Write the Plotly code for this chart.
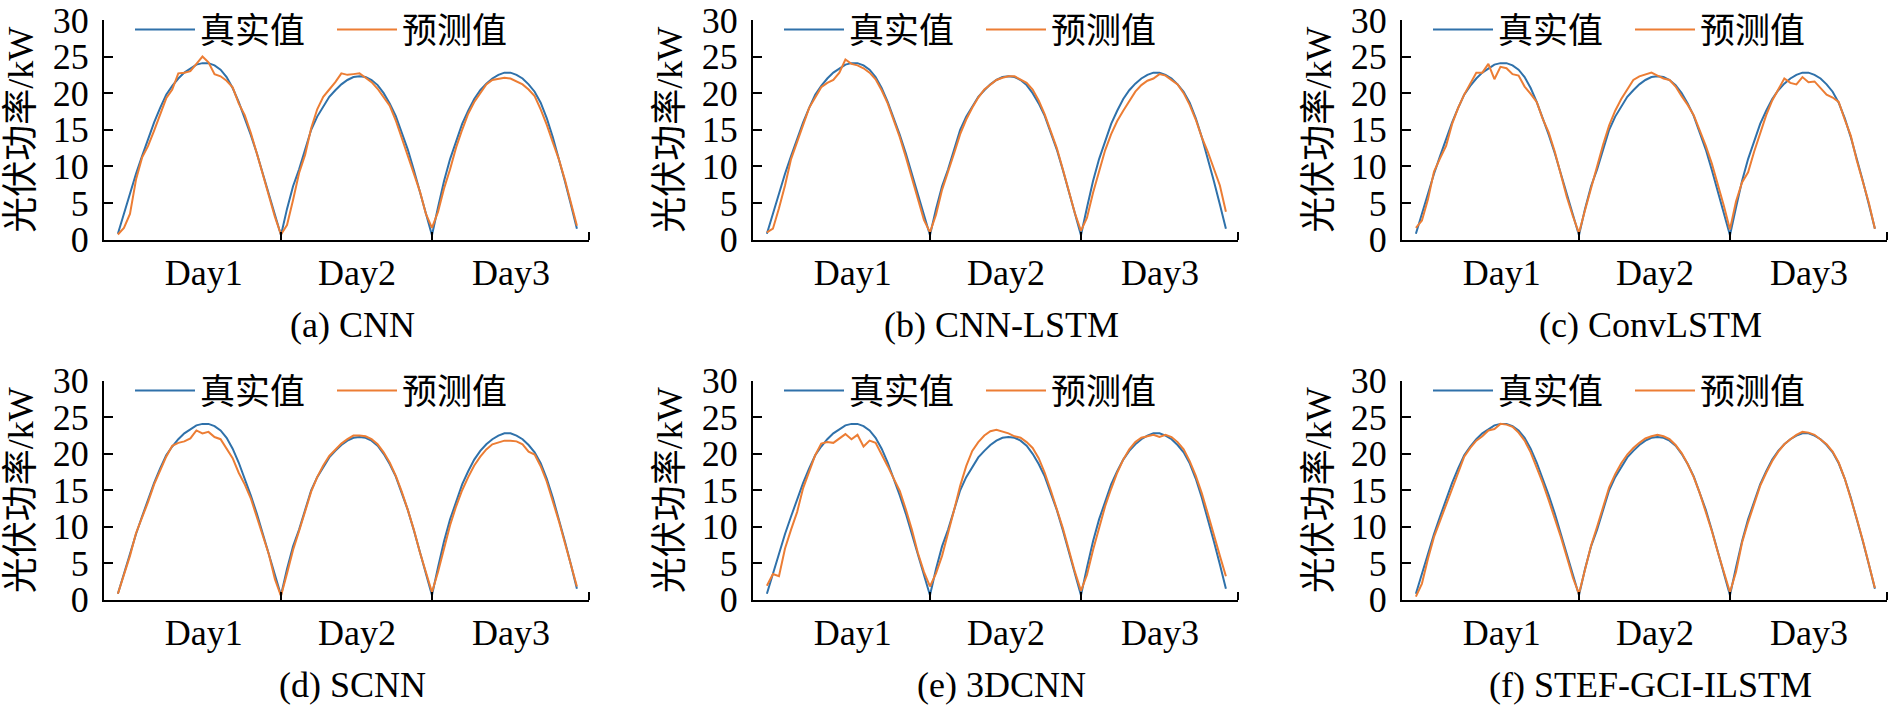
import plotly.graph_objects as go

# ---------------- data ----------------
day_labels = ["Day1", "Day2", "Day3"]
captions = ["(a) CNN", "(b) CNN-LSTM", "(c) ConvLSTM",
            "(d) SCNN", "(e) 3DCNN", "(f) STEF-GCI-ILSTM"]
legend_names = ["真实值", "预测值"]

true_kw = [
    0.8, 3.6, 6.4, 9.0, 11.4, 13.8, 16.0, 18.0, 19.8, 21.0, 22.0, 22.8, 23.4, 23.9,
    24.1, 24.1, 23.8, 23.2, 22.2, 20.7, 18.8, 16.6, 14.3, 11.8, 9.0, 6.1, 3.2, 0.6,
    4.2, 7.3, 9.6, 12.2, 15.0, 16.8, 18.2, 19.5, 20.4, 21.2, 21.8, 22.2, 22.3, 22.2,
    21.8, 21.1, 20.0, 18.6, 16.9, 14.7, 12.3, 9.5, 6.5, 3.5, 0.6,
    4.4, 8.0, 11.0, 13.5, 15.8, 17.6, 19.2, 20.4, 21.3, 22.0, 22.5, 22.8, 22.8, 22.5,
    22.0, 21.2, 20.2, 18.7, 16.6, 14.0, 11.1, 8.0, 4.8, 1.5,
]

pred_cnn = [
    0.7, 1.6, 3.5, 8.2, 11.2, 12.8, 14.9, 17.2, 19.3, 20.5, 22.7, 22.8, 23.0, 24.0,
    25.0, 24.2, 22.6, 22.3, 21.7, 20.8, 18.6, 17.0, 14.6, 11.8, 8.9, 5.8, 3.1, 0.7,
    2.0, 5.4, 9.1, 11.6, 15.2, 17.8, 19.5, 20.5, 21.5, 22.7, 22.5, 22.6, 22.7, 22.1,
    21.5, 20.6, 19.5, 18.3, 16.3, 13.8, 11.6, 9.1, 6.6, 3.5, 1.6,
    3.8, 7.0, 9.6, 12.6, 15.0, 17.2, 18.8, 20.0, 21.2, 21.8, 22.0, 22.1, 22.0, 21.6,
    21.2, 20.5, 19.6, 17.8, 15.7, 13.3, 11.0, 8.2, 5.0, 1.9,
]

pred_cnn_lstm = [
    1.0, 1.5, 4.3, 7.4, 11.0, 13.3, 15.4, 18.0, 19.4, 20.8, 21.4, 21.8, 22.8, 24.6,
    24.0, 23.8, 23.4, 22.8, 21.9, 20.4, 18.6, 16.4, 14.0, 11.3, 8.4, 5.5, 2.7, 1.0,
    3.4, 6.8, 9.2, 11.8, 14.4, 16.4, 18.0, 19.4, 20.5, 21.2, 21.8, 22.1, 22.3, 22.3,
    21.9, 21.4, 20.5, 19.0, 17.1, 14.9, 12.5, 9.6, 6.6, 3.6, 1.2,
    3.0, 6.4, 9.4, 12.2, 14.4, 16.2, 17.6, 19.0, 20.2, 21.1, 21.7, 22.0, 22.6, 22.4,
    21.8, 21.2, 20.0, 18.4, 16.4, 14.0, 12.0, 9.8, 7.4, 3.8,
]

pred_convlstm = [
    1.6, 2.6, 5.5, 9.3, 11.1, 12.8, 15.8, 18.0, 19.8, 21.4, 22.8, 22.8, 24.0, 21.9,
    23.6, 23.4, 22.6, 22.4, 20.9, 19.9, 18.8, 16.5, 14.6, 12.0, 8.8, 5.8, 3.2, 0.9,
    4.0, 7.0, 10.2, 13.0, 15.6, 17.6, 19.2, 20.6, 21.8, 22.3, 22.5, 22.8, 22.4, 22.0,
    21.8, 20.9, 19.6, 18.4, 17.0, 14.9, 12.8, 10.4, 7.6, 4.6, 1.4,
    5.2, 7.8, 9.2, 12.0, 14.6, 17.0, 19.0, 20.6, 22.0, 21.4, 21.2, 22.2, 21.5, 21.6,
    20.7, 19.8, 19.4, 18.8, 16.4, 14.2, 10.8, 7.8, 5.0, 1.5,
]

pred_scnn = [
    0.8, 3.4, 6.0, 9.1, 11.2, 13.4, 15.8, 17.6, 19.6, 21.1, 21.5, 21.7, 22.1, 23.2,
    22.8, 23.0, 22.3, 22.0, 20.6, 19.4, 17.4, 15.8, 13.9, 11.4, 8.8, 6.2, 2.8, 0.5,
    3.6, 6.8, 9.4, 12.0, 14.8, 16.8, 18.4, 19.7, 20.6, 21.4, 22.0, 22.5, 22.5, 22.4,
    22.0, 21.3, 20.2, 18.8, 17.0, 14.8, 12.3, 9.6, 6.5, 3.6, 1.0,
    3.8, 7.2, 10.2, 12.8, 15.0, 16.8, 18.4, 19.6, 20.6, 21.3, 21.6, 21.8, 21.8, 21.7,
    21.3, 20.3, 19.9, 18.3, 16.2, 13.6, 10.8, 7.8, 4.6, 1.8,
]

pred_3dcnn = [
    1.9, 3.5, 3.2, 7.0, 9.6, 12.0, 15.3, 17.5, 19.8, 21.4, 21.6, 21.5, 22.1, 22.7,
    22.0, 22.6, 21.0, 21.8, 21.5, 20.0, 18.3, 16.6, 14.9, 12.4, 9.6, 6.4, 3.8, 1.8,
    3.6, 6.0, 9.0, 12.3, 15.6, 18.3, 20.4, 21.6, 22.5, 23.1, 23.3, 23.1, 22.8, 22.4,
    22.2, 21.6, 20.8, 19.4, 17.4, 15.0, 12.4, 9.8, 6.8, 3.8, 1.2,
    3.4, 6.8, 10.0, 12.8, 15.2, 17.4, 19.2, 20.6, 21.6, 22.2, 22.4, 22.6, 22.3, 22.6,
    22.3, 21.6, 20.6, 19.0, 17.0, 14.6, 11.8, 8.8, 6.0, 3.2,
]

pred_stef = [
    0.4, 2.2, 5.6, 8.6, 10.8, 13.0, 15.4, 17.6, 19.6, 20.8, 21.8, 22.4, 23.2, 23.4,
    24.1, 24.0, 23.7, 22.9, 21.8, 20.2, 18.2, 16.0, 13.6, 11.2, 8.6, 5.8, 3.0, 0.8,
    4.0, 7.4, 10.0, 12.6, 15.4, 17.2, 18.7, 19.9, 20.8, 21.5, 22.1, 22.4, 22.6, 22.4,
    22.0, 21.2, 20.1, 18.6, 16.8, 14.6, 12.1, 9.4, 6.5, 3.6, 1.0,
    3.8, 7.8, 10.6, 13.2, 15.6, 17.4, 19.0, 20.3, 21.3, 22.0, 22.6, 23.0, 22.9, 22.6,
    22.0, 21.3, 20.3, 18.8, 16.6, 14.0, 11.1, 8.1, 4.9, 1.6,
]

predictions = [pred_cnn, pred_cnn_lstm, pred_convlstm, pred_scnn, pred_3dcnn, pred_stef]
day_boundaries = [27, 52]          # sample index where one day ends and next starts

# ---------------- style / layout ----------------
W, H = 1888, 708
BLUE = "#2f71aa"
ORANGE = "#ec7d34"
FONT = "Liberation Serif, 'Times New Roman', 'Noto Sans CJK SC', serif"
FS = 36

x_left_px = [104, 753, 1402]
panel_w = 485
row_px = [(16, 237), (379, 599)]
x_range = [-2.3, 78.0]
day_label_pos = [14.2, 39.6, 65.1]

x = list(range(len(true_kw)))

fig = go.Figure()
for k, pred in enumerate(predictions):
    r, c = divmod(k, 3)
    n = k + 1
    xa = "x" if n == 1 else f"x{n}"
    ya = "y" if n == 1 else f"y{n}"
    lg = "legend" if n == 1 else f"legend{n}"
    fig.add_trace(go.Scatter(x=x, y=true_kw, mode="lines", name=legend_names[0],
                             line=dict(color=BLUE, width=2), xaxis=xa, yaxis=ya,
                             legend=lg))
    fig.add_trace(go.Scatter(x=x, y=pred, mode="lines", name=legend_names[1],
                             line=dict(color=ORANGE, width=2), xaxis=xa, yaxis=ya,
                             legend=lg))

    x0 = x_left_px[c]
    top, bot = row_px[r]
    xdom = [x0 / W, (x0 + panel_w) / W]
    ydom = [1 - bot / H, 1 - top / H]
    xkey = "xaxis" if n == 1 else f"xaxis{n}"
    ykey = "yaxis" if n == 1 else f"yaxis{n}"
    fig.layout[xkey] = dict(
        domain=xdom, anchor=ya, range=x_range, automargin=False,
        tickmode="array", tickvals=day_label_pos, ticktext=day_labels,
        ticks="", ticklen=0, showline=True, linecolor="black", linewidth=2,
        showgrid=False, zeroline=False, ticklabeloverflow="allow",
        tickfont=dict(family=FONT, size=FS, color="black"),
        ticklabelstandoff=0,
        minor=dict(tickmode="array", tickvals=day_boundaries + [x_range[1]],
                   ticks="inside", ticklen=8, tickwidth=2, tickcolor="black",
                   showgrid=False),
    )
    fig.layout[ykey] = dict(
        domain=ydom, anchor=xa, range=[0, 30], automargin=False,
        tickmode="array", tickvals=[0, 5, 10, 15, 20, 25, 30],
        ticks="inside", ticklen=9, tickwidth=2, tickcolor="black",
        showline=True, linecolor="black", linewidth=2,
        showgrid=False, zeroline=False, ticklabeloverflow="allow",
        tickfont=dict(family=FONT, size=FS, color="black"),
        ticklabelstandoff=6,
    )
    fig.layout[lg] = dict(
        orientation="h", x=(x0 + 26) / W, y=1 - (top + 10) / H,
        xanchor="left", yanchor="middle", bgcolor="rgba(0,0,0,0)",
        font=dict(family=FONT, size=35, color="black"),
        itemwidth=60, tracegroupgap=0, entrywidth=127, entrywidthmode="pixels",
    )
    # y axis title
    fig.add_annotation(text="光伏功率/kW", textangle=-90, showarrow=False,
                       xref="paper", yref="paper",
                       x=(x0 - 83) / W, y=1 - (top + bot) / 2 / H,
                       xanchor="center", yanchor="middle",
                       font=dict(family=FONT, size=36, color="black"))
    # caption
    fig.add_annotation(text=captions[k], showarrow=False,
                       xref="paper", yref="paper",
                       x=(x0 + panel_w / 2 + 6) / W, y=1 - (bot + 86) / H,
                       xanchor="center", yanchor="middle",
                       font=dict(family=FONT, size=FS, color="black"))

fig.update_layout(width=W, height=H, margin=dict(l=0, r=0, t=0, b=0),
                  plot_bgcolor="white", paper_bgcolor="white", showlegend=True)
fig.write_html("out.html", config={"displayModeBar": False},
               post_script="document.body.style.margin='0px';"
                           "document.body.style.overflow='hidden';")
